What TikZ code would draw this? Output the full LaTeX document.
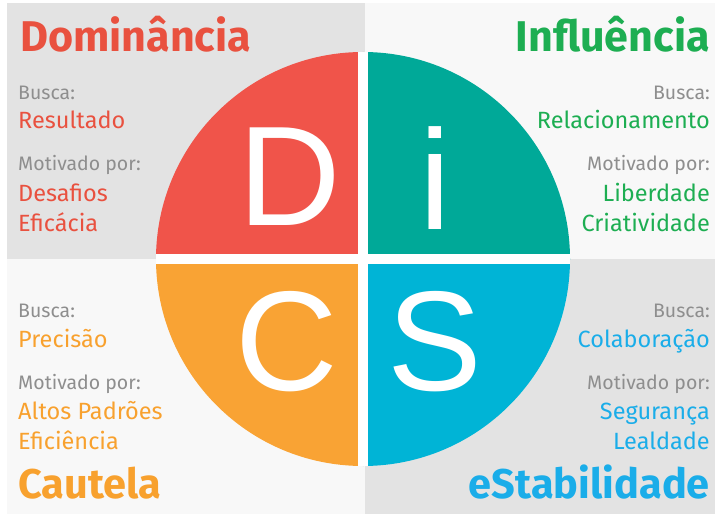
\documentclass[tikz,border=0pt]{standalone}
\usepackage{fontspec}
\setmainfont{Fira Sans}
\newfontfamily\letterfont{Liberation Sans}
\definecolor{dred}{HTML}{F0544A}
\definecolor{iteal}{HTML}{00A998}
\definecolor{corange}{HTML}{F9A334}
\definecolor{scyan}{HTML}{00B4D6}
\definecolor{tred}{HTML}{E9513F}
\definecolor{tgreen}{HTML}{1DAE52}
\definecolor{torange}{HTML}{F8A12E}
\definecolor{tblue}{HTML}{1AADE9}
\definecolor{tgray}{HTML}{8E8E8E}
\definecolor{bgdark}{HTML}{E3E3E3}
\definecolor{bglight}{HTML}{F8F8F8}
\tikzset{
  title/.style={inner sep=0pt, font=\fontsize{43}{43}\selectfont\bfseries},
  btitle/.style={inner sep=0pt, font=\fontsize{41.5}{42}\selectfont\bfseries},
  lbl/.style={inner sep=0pt, text=tgray, font=\fontsize{19.5}{20}\selectfont},
  val/.style={inner sep=0pt, font=\fontsize{23.5}{24}\selectfont},
  letter/.style={inner sep=0pt, text=white, font=\letterfont\fontsize{142}{142}\selectfont},
}
\begin{document}
\begin{tikzpicture}[x=1pt,y=1pt]
\useasboundingbox (0,0) rectangle (715,-516);
\fill[white] (0,0) rectangle (715,-516);
\fill[bgdark] (7,-3) rectangle (365,-259);
\fill[bglight] (365,-3) rectangle (715,-259);
\fill[bglight] (7,-259) rectangle (365,-514);
\fill[bgdark] (365,-259) rectangle (715,-514);
% circle quadrants
\coordinate (O) at (363,-259);
\fill[dred] (O) -- (156,-259) arc[start angle=180, end angle=90, radius=207] -- cycle;
\fill[iteal] (O) -- (363,-52) arc[start angle=90, end angle=0, radius=207] -- cycle;
\fill[scyan] (O) -- (570,-259) arc[start angle=0, end angle=-90, radius=207] -- cycle;
\fill[corange] (O) -- (363,-466) arc[start angle=-90, end angle=-180, radius=207] -- cycle;
\coordinate (hl) at (156,-259);
\coordinate (hr) at (570,-259);
\coordinate (vt) at (363,-52);
\coordinate (vb) at (363,-466);
\draw[white, line width=10pt] (hl) -- (hr);
\draw[white, line width=10pt] (vt) -- (vb);
% letters
\node[letter] (D) at (290,-177) {D};
\node[letter] (I) at (435,-178) {i};
\node[letter] (C) at (287,-342) {C};
\node[letter] (S) at (435,-342) {S};
% top-left
\node[title, text=tred, anchor=base west] (t1) at (20,-52) {Dominância};
\node[lbl, anchor=base west] (b1) at (18,-100) {Busca:};
\node[val, text=tred, anchor=base west] (r1) at (18,-129) {Resultado};
\node[lbl, anchor=base west] (m1) at (18,-171) {Motivado por:};
\node[val, text=tred, anchor=base west] (v1a) at (18,-201) {Desafios};
\node[val, text=tred, anchor=base west] (v1b) at (18,-231) {Eficácia};
% top-right
\node[title, text=tgreen, anchor=base east] (t2) at (710,-52) {Influência};
\node[lbl, anchor=base east] (b2) at (710,-100) {Busca:};
\node[val, text=tgreen, anchor=base east] (r2) at (710,-129) {Relacionamento};
\node[lbl, anchor=base east] (m2) at (710,-171) {Motivado por:};
\node[val, text=tgreen, anchor=base east] (v2a) at (710,-201) {Liberdade};
\node[val, text=tgreen, anchor=base east] (v2b) at (710,-231) {Criatividade};
% bottom-left
\node[lbl, anchor=base west] (b3) at (18,-317) {Busca:};
\node[val, text=torange, anchor=base west] (r3) at (18,-347) {Precisão};
\node[lbl, anchor=base west] (m3) at (18,-389) {Motivado por:};
\node[val, text=torange, anchor=base west] (v3a) at (18,-419) {Altos Padrões};
\node[val, text=torange, anchor=base west] (v3b) at (18,-449) {Eficiência};
\node[btitle, text=torange, anchor=base west] (t3) at (18,-498) {Cautela};
% bottom-right
\node[lbl, anchor=base east] (b4) at (710,-317) {Busca:};
\node[val, text=tblue, anchor=base east] (r4) at (710,-347) {Colaboração};
\node[lbl, anchor=base east] (m4) at (710,-389) {Motivado por:};
\node[val, text=tblue, anchor=base east] (v4a) at (710,-419) {Segurança};
\node[val, text=tblue, anchor=base east] (v4b) at (710,-449) {Lealdade};
\node[btitle, text=tblue, anchor=base east] (t4) at (710,-498) {eStabilidade};
\end{tikzpicture}
\end{document}
